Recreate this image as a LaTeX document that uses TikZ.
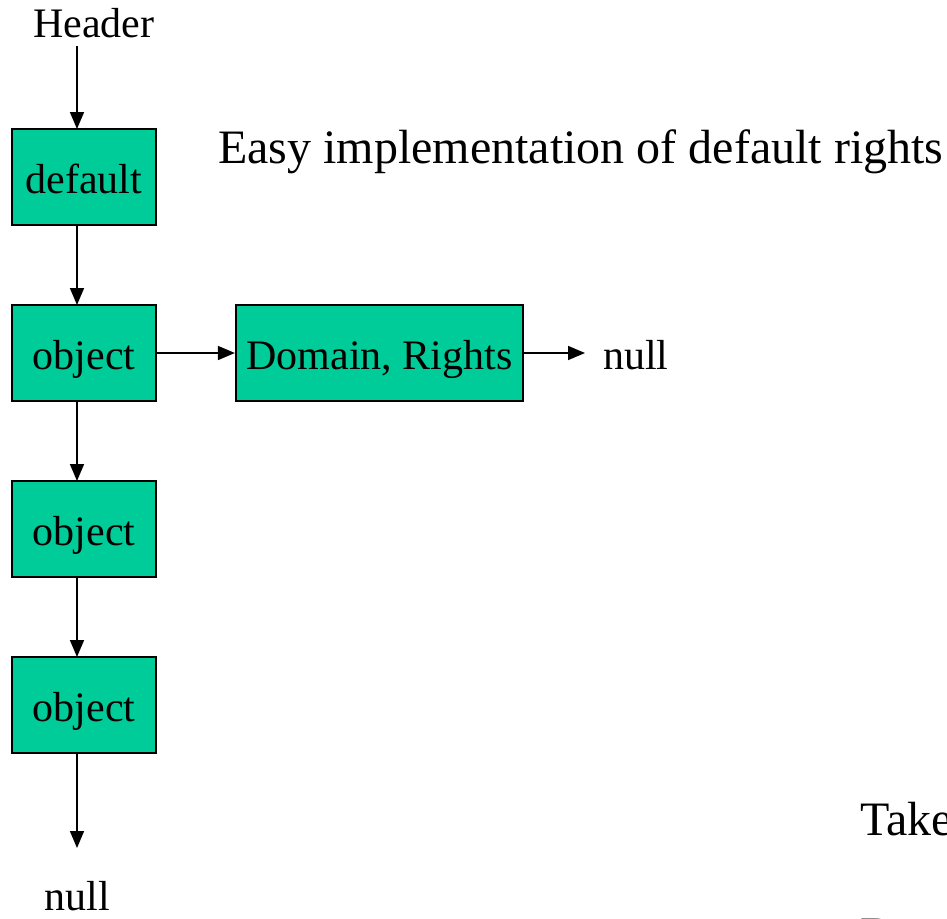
\documentclass[tikz,border=0pt]{standalone}
\usepackage{fontspec}
\setmainfont{Liberation Serif}
\usetikzlibrary{arrows.meta}
\definecolor{cellgreen}{RGB}{0,204,153}
\tikzset{
  cell/.style={draw=black, line width=2.2pt, fill=cellgreen, minimum width=144pt, minimum height=96pt, inner sep=0pt, text height=32pt, text depth=0pt, font=\fontsize{42}{48}\selectfont},
  lbl/.style={inner sep=0pt, font=\fontsize{42}{48}\selectfont},
  big/.style={inner sep=0pt, font=\fontsize{48}{56}\selectfont},
  link/.style={line width=1.6pt, -{Triangle[length=17pt,width=14pt]}}
}
\begin{document}
\begin{tikzpicture}[x=1pt,y=-1pt]
\useasboundingbox (0,0) rectangle (947,918);
\clip (0,0) rectangle (947,918);
% list cells
\node[cell] (def) at (84,177) {default};
\node[cell] (o1) at (84,353) {object};
\node[cell] (o2) at (84,529) {object};
\node[cell] (o3) at (84,705) {object};
\node[cell, minimum width=287pt] (dr) at (379.5,353) {Domain, Rights};
% free labels
\node[lbl, anchor=base] (hdr) at (94,37) {Header};
\node[lbl, anchor=base west] (n1) at (603,369) {null};
\node[lbl, anchor=base] (n2) at (77,910) {null};
\node[big, anchor=base west] (easy) at (218,163) {Easy implementation of default rights};
\node[big, anchor=base west] (take) at (860,835) {Take};
\node[big, anchor=base west] (tail) at (860,950) {D};
% connector ends
\coordinate (hdrend) at (77,46);
\coordinate (nullend) at (77,848);
\coordinate (rnull) at (585,353);
% connectors
\draw[link] (hdrend) -- (77,129);
\draw[link] (77,225) -- (77,305);
\draw[link] (77,401) -- (77,481);
\draw[link] (77,577) -- (77,657);
\draw[link] (77,753) -- (nullend);
\draw[link] (o1.east) -- (dr.west);
\draw[link] (dr.east) -- (rnull);
\end{tikzpicture}
\end{document}
